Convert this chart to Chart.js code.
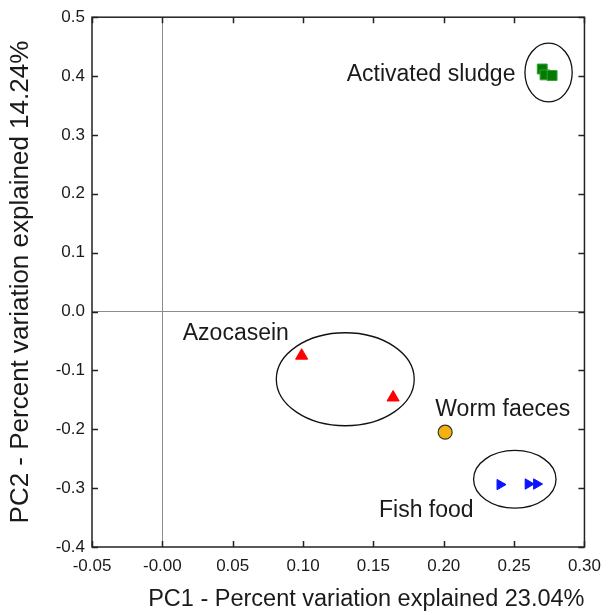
<!DOCTYPE html>
<html>
<head>
<meta charset="utf-8">
<script src="https://cdn.jsdelivr.net/npm/chart.js@4"></script>
<style>
  html, body { margin: 0; padding: 0; background: #fff; }
  #wrap { width: 610px; height: 615px; }
</style>
</head>
<body>
<div id="wrap"><canvas id="chart-pca"></canvas></div>
<script>
// group scores (PC1, PC2)
const sludgeX = [0.270, 0.272, 0.277];
const sludgeY = [0.412, 0.402, 0.401];
const azoX = [0.099, 0.164];
const azoY = [-0.075, -0.146];
const wormX = [0.201];
const wormY = [-0.205];
const fishX = [0.240, 0.260, 0.266];
const fishY = [-0.294, -0.293, -0.293];

// group ellipses: centre and half axes in data units
const ellipseCx = [0.2745, 0.130, 0.2505];
const ellipseCy = [0.406, -0.115, -0.285];
const ellipseRx = [0.0168, 0.049, 0.0293];
const ellipseRy = [0.050, 0.079, 0.049];

// group labels
const labelText = ["Activated sludge", "Azocasein", "Worm faeces", "Fish food"];
const labelX = [0.131, 0.0145, 0.194, 0.154];
const labelY = [0.403, -0.038, -0.167, -0.339];

const X_TICKS = { min: -0.05, max: 0.30, step: 0.05 };
const Y_TICKS = { min: -0.4, max: 0.5, step: 0.1 };

function pts(xs, ys) {
  return xs.map((x, i) => ({ x: x, y: ys[i] }));
}

// frame with inward ticks, ellipses and group labels
const framePlugin = {
  id: "pcaFrame",
  afterDatasetsDraw(chart) {
    const ctx = chart.ctx;
    const a = chart.chartArea;
    const sx = chart.scales.x;
    const sy = chart.scales.y;
    const tl = 6;

    ctx.save();
    ctx.strokeStyle = "#111";
    ctx.lineWidth = 1.3;
    ellipseCx.forEach((cx, i) => {
      const px = sx.getPixelForValue(cx);
      const py = sy.getPixelForValue(ellipseCy[i]);
      const rx = Math.abs(sx.getPixelForValue(cx + ellipseRx[i]) - px);
      const ry = Math.abs(sy.getPixelForValue(ellipseCy[i] + ellipseRy[i]) - py);
      ctx.beginPath();
      ctx.ellipse(px, py, rx, ry, 0, 0, Math.PI * 2);
      ctx.stroke();
    });

    ctx.fillStyle = "#1a1a1a";
    ctx.font = "23px Arial, 'Liberation Sans', sans-serif";
    ctx.textAlign = "left";
    ctx.textBaseline = "middle";
    labelText.forEach((t, i) => {
      ctx.fillText(t, sx.getPixelForValue(labelX[i]), sy.getPixelForValue(labelY[i]));
    });

    ctx.strokeStyle = "#222";
    ctx.lineWidth = 1.5;
    ctx.strokeRect(a.left, a.top, a.right - a.left, a.bottom - a.top);
    ctx.beginPath();
    sx.ticks.forEach((t) => {
      const p = Math.round(sx.getPixelForValue(t.value)) + 0.5;
      ctx.moveTo(p, a.bottom); ctx.lineTo(p, a.bottom - tl);
      ctx.moveTo(p, a.top); ctx.lineTo(p, a.top + tl);
    });
    sy.ticks.forEach((t) => {
      const p = Math.round(sy.getPixelForValue(t.value)) + 0.5;
      ctx.moveTo(a.left, p); ctx.lineTo(a.left + tl, p);
      ctx.moveTo(a.right, p); ctx.lineTo(a.right - tl, p);
    });
    ctx.stroke();
    ctx.restore();
  },
};

const zeroLine = (c) => (Math.abs(c.tick.value) < 1e-9 ? "#8c8c8c" : "transparent");

new Chart(document.getElementById("chart-pca"), {
  type: "scatter",
  data: {
    datasets: [
      {
        label: "Activated sludge",
        data: pts(sludgeX, sludgeY),
        pointStyle: "rect",
        pointRadius: 7,
        backgroundColor: "#047a04",
        borderColor: "#2fa52f",
        borderWidth: 1,
      },
      {
        label: "Azocasein",
        data: pts(azoX, azoY),
        pointStyle: "triangle",
        pointRadius: 7,
        backgroundColor: "#ff0000",
        borderColor: "#ff0000",
        borderWidth: 1,
      },
      {
        label: "Worm faeces",
        data: pts(wormX, wormY),
        pointStyle: "circle",
        pointRadius: 7,
        backgroundColor: "#f5b20f",
        borderColor: "#333",
        borderWidth: 1.2,
      },
      {
        label: "Fish food",
        data: pts(fishX, fishY),
        pointStyle: "triangle",
        rotation: 90,
        pointRadius: 6,
        backgroundColor: "#0a14ff",
        borderColor: "#0a14ff",
        borderWidth: 1,
      },
    ],
  },
  plugins: [framePlugin],
  options: {
    responsive: true,
    maintainAspectRatio: false,
    animation: false,
    layout: { padding: { top: 15, right: 21, left: 0, bottom: 0 } },
    plugins: { legend: { display: false }, tooltip: { enabled: false } },
    scales: {
      x: {
        type: "linear",
        min: X_TICKS.min,
        max: X_TICKS.max,
        afterFit: (s) => { s.height = 68; },
        ticks: {
          stepSize: X_TICKS.step,
          padding: 9,
          color: "#1a1a1a",
          font: { family: "Arial, 'Liberation Sans', sans-serif", size: 17 },
          callback: (v) => v.toFixed(2),
        },
        grid: { color: zeroLine, lineWidth: 1, drawTicks: false },
        border: { display: false },
        title: {
          display: true,
          text: "PC1 - Percent variation explained 23.04%",
          align: "end",
          color: "#1a1a1a",
          font: { family: "Arial, 'Liberation Sans', sans-serif", size: 23.5 },
          padding: { top: 0, bottom: 1 },
        },
      },
      y: {
        type: "linear",
        min: Y_TICKS.min,
        max: Y_TICKS.max,
        afterFit: (s) => { s.width = 92; },
        ticks: {
          stepSize: Y_TICKS.step,
          padding: 7,
          color: "#1a1a1a",
          font: { family: "Arial, 'Liberation Sans', sans-serif", size: 17 },
          callback: (v) => v.toFixed(1),
        },
        grid: { color: zeroLine, lineWidth: 1, drawTicks: false },
        border: { display: false },
        title: {
          display: true,
          text: "PC2 - Percent variation explained 14.24%",
          color: "#1a1a1a",
          font: { family: "Arial, 'Liberation Sans', sans-serif", size: 26 },
          padding: { top: 5, bottom: 0 },
        },
      },
    },
  },
});
</script>
</body>
</html>
